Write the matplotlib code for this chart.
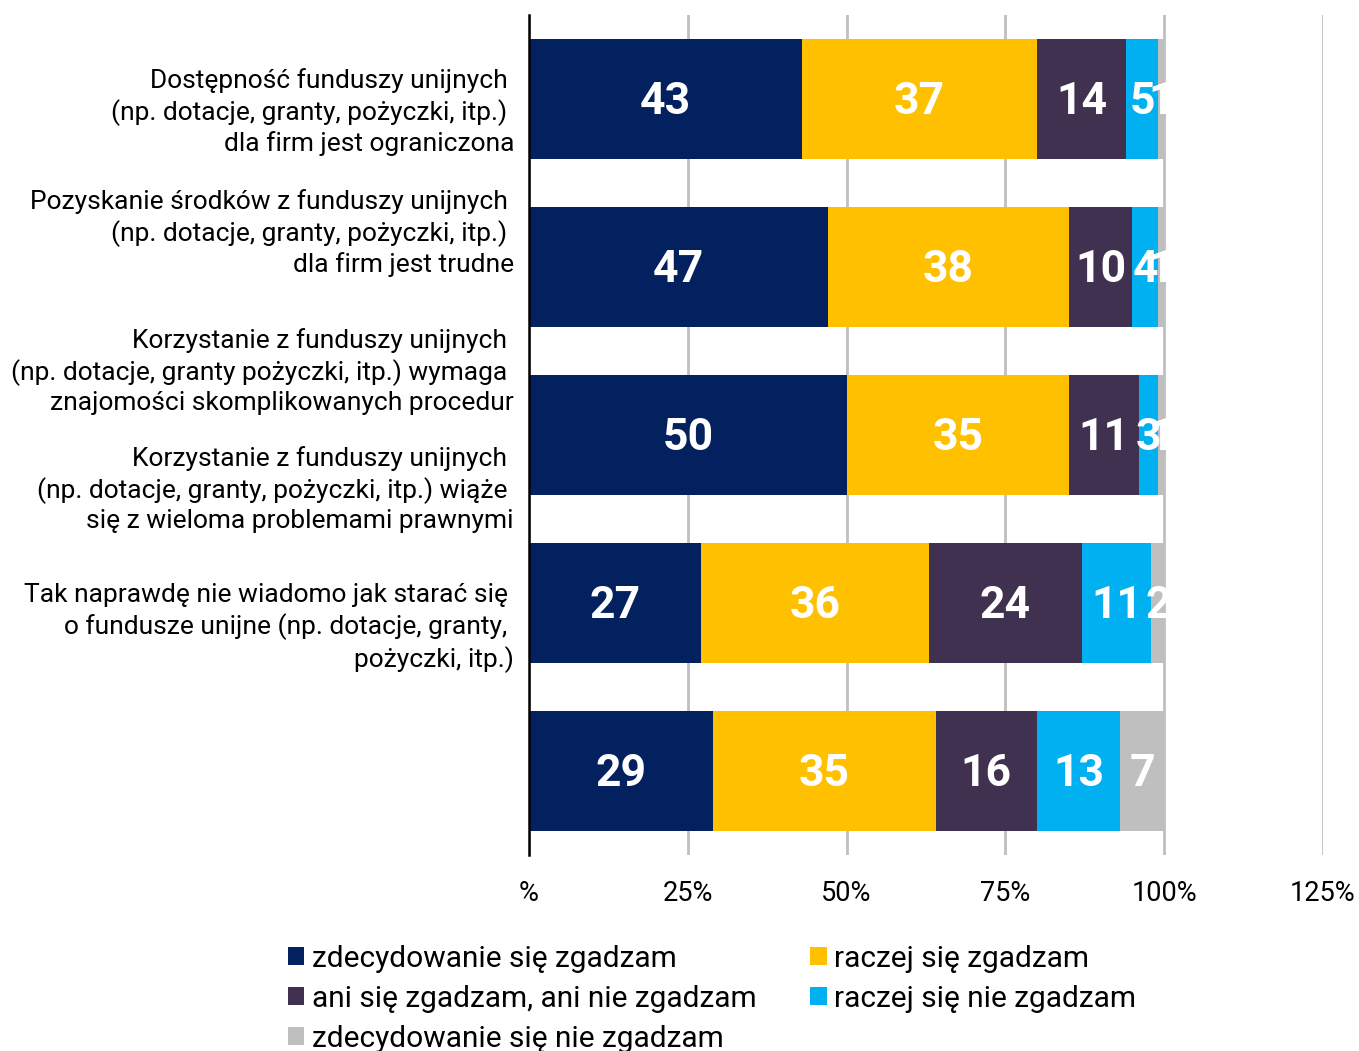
import matplotlib.pyplot as plt
from matplotlib.patches import Rectangle

# =========================
# DATA
# =========================

statements = [
    "Dostępność funduszy unijnych \n(np. dotacje, granty, pożyczki, itp.) \ndla firm jest ograniczona",
    "Pozyskanie środków z funduszy unijnych \n(np. dotacje, granty, pożyczki, itp.) \ndla firm jest trudne",
    "Korzystanie z funduszy unijnych \n(np. dotacje, granty pożyczki, itp.) wymaga \nznajomości skomplikowanych procedur",
    "Korzystanie z funduszy unijnych \n(np. dotacje, granty, pożyczki, itp.) wiąże \nsię z wieloma problemami prawnymi",
    "Tak naprawdę nie wiadomo jak starać się \no fundusze unijne (np. dotacje, granty, \npożyczki, itp.)",
]

answers = [
    "zdecydowanie się zgadzam",
    "raczej się zgadzam",
    "ani się zgadzam, ani nie zgadzam",
    "raczej się nie zgadzam",
    "zdecydowanie się nie zgadzam",
]

strongly_agree = [43, 47, 50, 27, 29]
agree = [37, 38, 35, 36, 35]
neutral = [14, 10, 11, 24, 16]
disagree = [5, 4, 3, 11, 13]
strongly_disagree = [1, 1, 1, 2, 7]

colors = ["#03215E", "#FFC000", "#403151", "#00B0F0", "#BFBFBF"]

tick_values = [0, 25, 50, 75, 100, 125]
tick_labels = ["%", "25%", "50%", "75%", "100%", "125%"]

# =========================
# CHART
# =========================

plt.rcParams["font.family"] = ["Roboto", "DejaVu Sans"]

fig = plt.figure(figsize=(13.59, 10.51), dpi=100)
ax = fig.add_axes([529 / 1359, 1 - 855 / 1051, (1323 - 529) / 1359, 840 / 1051])

series = [strongly_agree, agree, neutral, disagree, strongly_disagree]
ypos = list(range(len(statements)))

# value labels are cut off at 100%
clip_rect = Rectangle((0, -0.5), 100, 5, transform=ax.transData)

left = [0] * len(statements)
for name, values, color in zip(answers, series, colors):
    ax.barh(ypos, values, left=left, height=0.714, color=color,
            label=name, zorder=2)
    for y, l, v in zip(ypos, left, values):
        t = ax.text(l + v / 2, y + 0.015, str(v), ha="center", va="center",
                    color="white", fontsize=32, fontweight="bold",
                    zorder=3)
        t.set_clip_path(clip_rect)
    left = [a + b for a, b in zip(left, values)]

ax.set_xlim(0, 125)
ax.set_ylim(4.5, -0.5)
ax.set_xticks(tick_values)
ax.set_xticklabels(tick_labels, fontsize=19.5)
ax.set_yticks([])
ax.tick_params(axis="x", length=0, pad=18)

ax.grid(axis="x", color="#BFBFBF", linewidth=2, zorder=0)
ax.set_axisbelow(True)

for side in ["top", "right", "bottom"]:
    ax.spines[side].set_visible(False)
ax.spines["left"].set_color("black")
ax.spines["left"].set_linewidth(1.8)
ax.spines["left"].set_zorder(4)

# statement labels (placed as in the original)
label_centers = [112, 233, 372, 490, 628]
for text, yc in zip(statements, label_centers):
    fig.text(514 / 1359, 1 - yc / 1051, text, ha="right", va="center",
             fontsize=19, linespacing=1.28, multialignment="right")

# legend filled row by row
handles, labels = ax.get_legend_handles_labels()
order = [0, 2, 4, 1, 3]
fig.legend([handles[i] for i in order], [labels[i] for i in order],
           loc="upper left", bbox_to_anchor=(276 / 1359, 1 - 933 / 1051),
           ncol=2, frameon=False, fontsize=21.5, handlelength=0.55,
           handleheight=0.55, handletextpad=0.25, columnspacing=1.8,
           labelspacing=0.4, borderaxespad=0)

plt.savefig("out.png", dpi=100)
